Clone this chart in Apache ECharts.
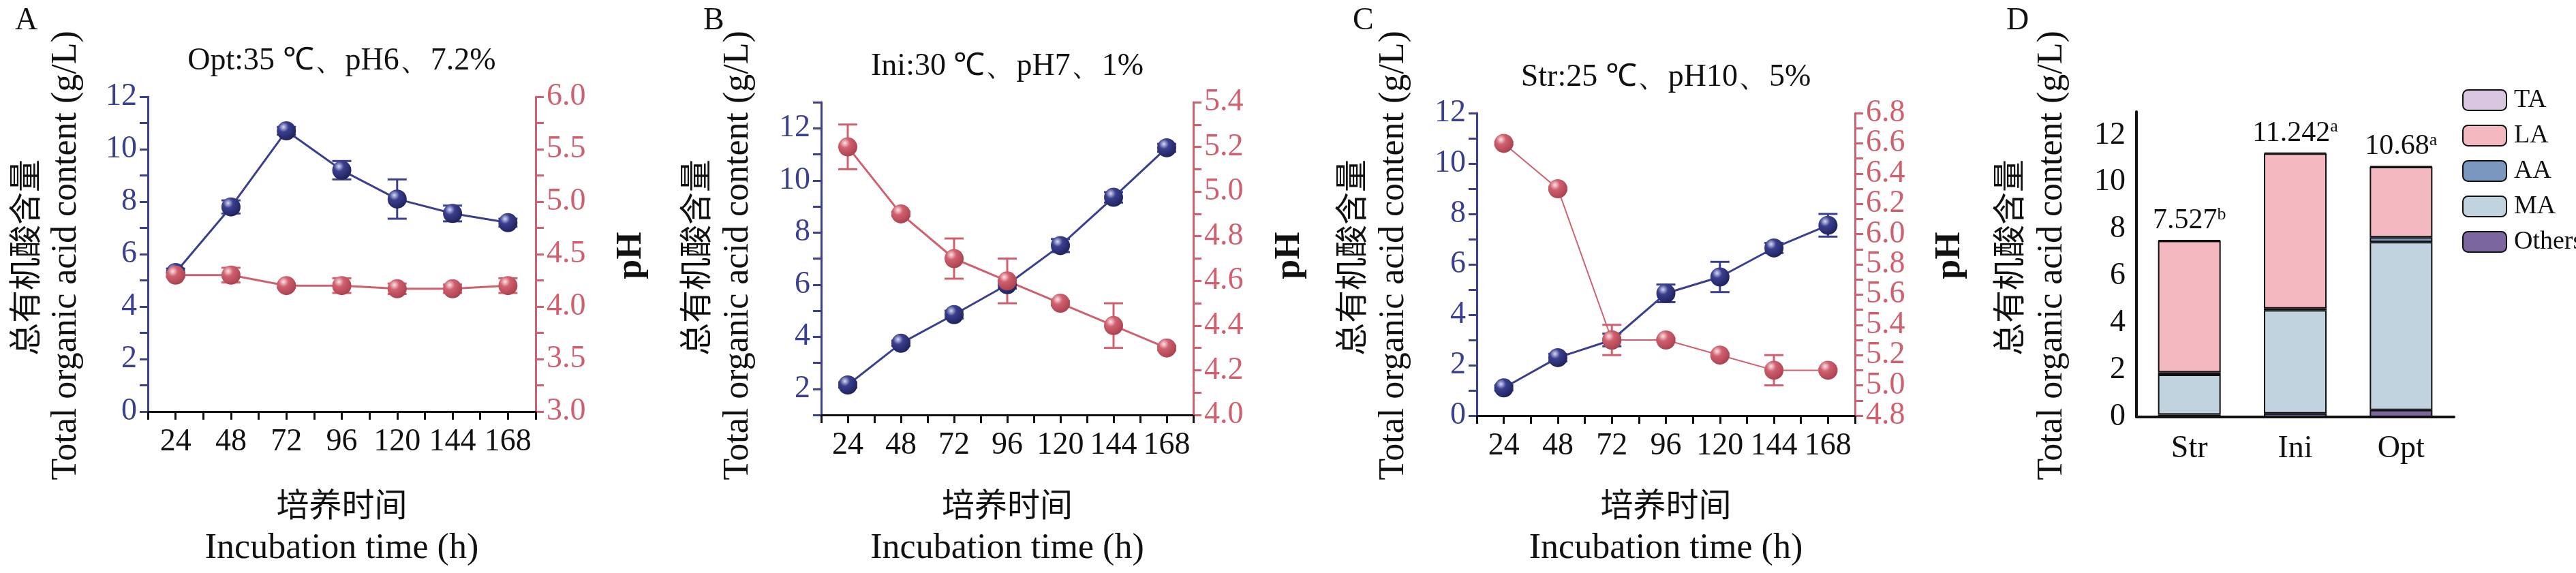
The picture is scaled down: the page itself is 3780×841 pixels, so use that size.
<!DOCTYPE html>
<html>
<head>
<meta charset="utf-8">
<script src="https://cdn.jsdelivr.net/npm/echarts@6/dist/echarts.min.js"></script>
<style>html,body{margin:0;padding:0;background:#fff}#main{width:3780px;height:841px}</style>
</head>
<body>
<div id="main"></div>
<script>
var hours = [24, 48, 72, 96, 120, 144, 168];

var optAcid = [5.3, 7.8, 10.7, 9.2, 8.1, 7.55, 7.2];
var optAcidErr = [0.15, 0.25, 0.15, 0.35, 0.75, 0.3, 0.15];
var optPH = [4.3, 4.3, 4.2, 4.2, 4.17, 4.17, 4.2];
var optPHErr = [0.02, 0.07, 0.02, 0.07, 0.05, 0.04, 0.07];

var iniAcid = [2.15, 3.75, 4.85, 6.0, 7.5, 9.35, 11.25];
var iniAcidErr = [0.1, 0.1, 0.15, 0.15, 0.25, 0.2, 0.15];
var iniPH = [5.2, 4.9, 4.7, 4.6, 4.5, 4.4, 4.3];
var iniPHErr = [0.1, 0.01, 0.09, 0.1, 0.01, 0.1, 0.01];

var strAcid = [1.1, 2.3, 3.0, 4.85, 5.5, 6.65, 7.55];
var strAcidErr = [0.1, 0.15, 0.25, 0.35, 0.6, 0.2, 0.45];
var strPH = [6.6, 6.3, 5.3, 5.3, 5.2, 5.1, 5.1];
var strPHErr = [0.01, 0.01, 0.1, 0.01, 0.01, 0.1, 0.01];

var groups = ['Str', 'Ini', 'Opt'];
var others = [0.1, 0.15, 0.3];
var ma = [1.7, 4.4, 7.15];
var aa = [0.1, 0.07, 0.2];
var la = [5.6, 6.6, 3.0];
var ta = [0.03, 0.04, 0.03];
var totals = ['7.527', '11.242', '10.68'];
var letters = ['b', 'a', 'a'];

var BLUE = '#3a3f8f', RED = '#d0606e';
var SERIF = '"Liberation Serif", "Times New Roman", serif';
var CJK = '"Noto Sans CJK SC", sans-serif';

var myChart = echarts.init(document.getElementById('main'));

var panels = [
	{ grid: { left: 217, top: 142, width: 569, height: 462 }, title: 'Opt:35 ℃、pH6、7.2%', acid: optAcid, acidErr: optAcidErr, ph: optPH, phErr: optPHErr,
		ly: [0, 12, 1], ry: [3, 6, 0.25, 0.5], letter: 'A', lx: 22, cnx: 36, enx: 97, phx: 927, lw: 3 },
	{ grid: { left: 1205, top: 150, width: 546, height: 459 }, title: 'Ini:30 ℃、pH7、1%', acid: iniAcid, acidErr: iniAcidErr, ph: iniPH, phErr: iniPHErr,
		ly: [1, 13, 1], ry: [4, 5.4, 0.1, 0.2], letter: 'B', lx: 1032, cnx: 1020, enx: 1083, phx: 1893, lw: 3 },
	{ grid: { left: 2167, top: 166, width: 555, height: 444 }, title: 'Str:25 ℃、pH10、5%', acid: strAcid, acidErr: strAcidErr, ph: strPH, phErr: strPHErr,
		ly: [0, 12, 1], ry: [4.8, 6.8, 0.1, 0.2], letter: 'C', lx: 1985, cnx: 1982, enx: 2045, phx: 2862, lw: 2 }
];

function ball(c1, c2, c3) {
	return new echarts.graphic.RadialGradient(0.35, 0.3, 0.75, [
		{ offset: 0, color: c1 }, { offset: 0.35, color: c2 }, { offset: 1, color: c3 }]);
}

function errSeries(xi, yi, vals, errs, color, lw) {
	return {
		type: 'custom', xAxisIndex: xi, yAxisIndex: yi, z: 1,
		data: hours.map(function(h, i) { return [h, vals[i] - errs[i], vals[i] + errs[i]]; }),
		renderItem: function(params, api) {
			var lo = api.coord([api.value(0), api.value(1)]);
			var hi = api.coord([api.value(0), api.value(2)]);
			var w = 14, st = { stroke: color, lineWidth: lw };
			return { type: 'group', children: [
				{ type: 'line', shape: { x1: lo[0], y1: lo[1], x2: hi[0], y2: hi[1] }, style: st },
				{ type: 'line', shape: { x1: lo[0] - w, y1: lo[1], x2: lo[0] + w, y2: lo[1] }, style: st },
				{ type: 'line', shape: { x1: hi[0] - w, y1: hi[1], x2: hi[0] + w, y2: hi[1] }, style: st }
			] };
		}
	};
}

function tickFmt(step, dec) {
	return function(v) {
		var k = Math.round(v * 100) / 100;
		return Math.abs(k / step - Math.round(k / step)) < 1e-6 ? k.toFixed(dec) : '';
	};
}

var grids = [], xAxes = [], yAxes = [], series = [], graphics = [];

panels.forEach(function(p, n) {
	grids.push(p.grid);
	xAxes.push({
		type: 'value', gridIndex: n, min: 12, max: 180, interval: 12,
		axisLine: { lineStyle: { color: '#111', width: 3 } },
		axisTick: { length: 12, lineStyle: { color: '#111', width: 3 } },
		axisLabel: { fontFamily: SERIF, fontSize: 46, color: '#111', margin: 22,
			formatter: function(v) { return v % 24 === 0 ? v : ''; } },
		splitLine: { show: false }
	});
	yAxes.push({
		type: 'value', gridIndex: n, min: p.ly[0], max: p.ly[1], interval: p.ly[2],
		axisLine: { show: true, lineStyle: { color: BLUE, width: 3 } },
		axisTick: { length: 12, lineStyle: { color: BLUE, width: 3 } },
		axisLabel: { fontFamily: SERIF, fontSize: 46, color: BLUE, margin: 16, formatter: tickFmt(2, 0) },
		splitLine: { show: false }
	});
	yAxes.push({
		type: 'value', gridIndex: n, position: 'right', min: p.ry[0], max: p.ry[1], interval: p.ry[2],
		axisLine: { show: true, lineStyle: { color: RED, width: 3 } },
		axisTick: { length: 12, lineStyle: { color: RED, width: 3 } },
		axisLabel: { fontFamily: SERIF, fontSize: 46, color: RED, margin: 16, formatter: tickFmt(p.ry[3], 1) },
		splitLine: { show: false }
	});
	var yl = yAxes.length - 2, yr = yAxes.length - 1;
	series.push(errSeries(n, yl, p.acid, p.acidErr, BLUE, 3));
	series.push(errSeries(n, yr, p.ph, p.phErr, RED, 3));
	series.push({
		type: 'line', xAxisIndex: n, yAxisIndex: yl, z: 3,
		data: hours.map(function(h, i) { return [h, p.acid[i]]; }),
		symbol: 'circle', symbolSize: 28,
		lineStyle: { color: BLUE, width: 3 },
		itemStyle: { color: ball('#d8dbf2', BLUE, '#1e2158') }
	});
	series.push({
		type: 'line', xAxisIndex: n, yAxisIndex: yr, z: 3,
		data: hours.map(function(h, i) { return [h, p.ph[i]]; }),
		symbol: 'circle', symbolSize: 28,
		lineStyle: { color: RED, width: p.lw },
		itemStyle: { color: ball('#fbe3e6', RED, '#a8404e') }
	});
	var cx = p.grid.left + p.grid.width / 2;
	graphics.push({ type: 'text', left: p.lx, top: 8, style: { text: p.letter, font: '46px ' + SERIF, fill: '#111' } });
	graphics.push({ type: 'text', x: cx, y: p.grid.top - 52, style: { text: p.title, font: '46px ' + SERIF, fill: '#111', textAlign: 'center', textVerticalAlign: 'middle' } });
	graphics.push({ type: 'text', x: cx, y: 740, style: { text: '培养时间', font: '48px ' + CJK, fill: '#111', textAlign: 'center', textVerticalAlign: 'middle' } });
	graphics.push({ type: 'text', x: cx, y: 805, style: { text: 'Incubation time (h)', font: '52px ' + SERIF, fill: '#111', textAlign: 'center', textVerticalAlign: 'middle' } });
	graphics.push({ type: 'text', x: p.cnx, y: 378, rotation: Math.PI / 2, style: { text: '总有机酸含量', font: '48px ' + CJK, fill: '#111', textAlign: 'center', textVerticalAlign: 'middle' } });
	graphics.push({ type: 'text', x: p.enx, y: 375, rotation: Math.PI / 2, style: { text: 'Total organic acid content (g/L)', font: '52px ' + SERIF, fill: '#111', textAlign: 'center', textVerticalAlign: 'middle' } });
	graphics.push({ type: 'text', x: p.phx, y: 375, rotation: Math.PI / 2, style: { text: 'pH', font: 'bold 52px ' + SERIF, fill: '#111', textAlign: 'center', textVerticalAlign: 'middle' } });
});

// panel D, stacked bars
grids.push({ left: 3135, top: 164, width: 466, height: 448 });
xAxes.push({
	type: 'category', gridIndex: 3, data: groups,
	axisLine: { lineStyle: { color: '#111', width: 4 } },
	axisTick: { length: 14, lineStyle: { color: '#111', width: 4 } },
	axisLabel: { fontFamily: SERIF, fontSize: 46, color: '#111', margin: 24 }
});
yAxes.push({
	type: 'value', gridIndex: 3, min: 0, max: 13, interval: 1,
	axisLine: { show: true, lineStyle: { color: '#111', width: 4 } },
	axisTick: { length: 14, lineStyle: { color: '#111', width: 4 } },
	axisLabel: { fontFamily: SERIF, fontSize: 46, color: '#111', margin: 16, formatter: tickFmt(2, 0) },
	splitLine: { show: false }
});
var yD = yAxes.length - 1;
var stackParts = [
	{ name: 'Others', data: others, color: '#7b66a0' },
	{ name: 'MA', data: ma, color: '#c2d3e0' },
	{ name: 'AA', data: aa, color: '#7a97bf' },
	{ name: 'LA', data: la, color: '#f4b8c0' },
	{ name: 'TA', data: ta, color: '#d9c6e0' }
];
stackParts.forEach(function(s, k) {
	var ser = {
		name: s.name, type: 'bar', stack: 'acid', xAxisIndex: 3, yAxisIndex: yD,
		barWidth: 92, data: s.data,
		itemStyle: { color: s.color, borderColor: '#111', borderWidth: 2 }
	};
	if (k === stackParts.length - 1) {
		ser.label = {
			show: true, position: 'top', distance: 6,
			formatter: function(p) { return '{v|' + totals[p.dataIndex] + '}{s|' + letters[p.dataIndex] + '}'; },
			rich: {
				v: { fontFamily: SERIF, fontSize: 42, color: '#111' },
				s: { fontFamily: SERIF, fontSize: 26, color: '#111', padding: [0, 0, 18, 0] }
			}
		};
	}
	series.push(ser);
});
graphics.push({ type: 'text', left: 2944, top: 8, style: { text: 'D', font: '46px ' + SERIF, fill: '#111' } });
graphics.push({ type: 'text', x: 2947, y: 378, rotation: Math.PI / 2, style: { text: '总有机酸含量', font: '48px ' + CJK, fill: '#111', textAlign: 'center', textVerticalAlign: 'middle' } });
graphics.push({ type: 'text', x: 3011, y: 375, rotation: Math.PI / 2, style: { text: 'Total organic acid content (g/L)', font: '52px ' + SERIF, fill: '#111', textAlign: 'center', textVerticalAlign: 'middle' } });

var option = {
	backgroundColor: '#fff',
	animation: false,
	grid: grids,
	xAxis: xAxes,
	yAxis: yAxes,
	legend: {
		data: ['TA', 'LA', 'AA', 'MA', 'Others'],
		orient: 'vertical', left: 3608, top: 123,
		itemWidth: 64, itemHeight: 30, itemGap: 14,
		textStyle: { fontFamily: SERIF, fontSize: 38, color: '#111', padding: [0, 0, 0, 6] },
		itemStyle: { borderColor: '#111', borderWidth: 2 }
	},
	graphic: graphics,
	series: series
};
myChart.setOption(option);
</script>
</body>
</html>
